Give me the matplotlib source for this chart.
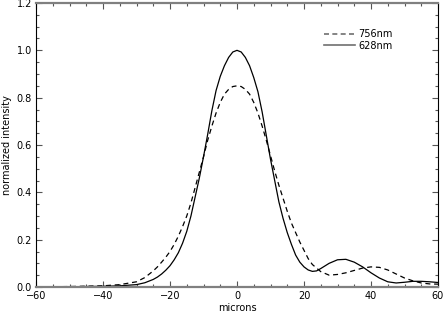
import numpy as np
import matplotlib.pyplot as plt
from matplotlib.lines import Line2D
from matplotlib.ticker import MultipleLocator

# profile positions (microns)
pos = [-60, -50, -40, -35, -30, -27.5, -25, -23.75, -22.5, -21.25, -20, -18.75, -17.5, -16.25,
       -15, -13.75, -12.5, -11.25, -10, -8.75, -7.5, -6.25, -5, -3.75, -2.5, -1.25,
       0, 1.25, 2.5, 3.75, 5, 6.25, 7.5, 8.75, 10, 11.25, 12.5, 13.75, 15, 16.25, 17.5,
       18.75, 20, 21.25, 22.5, 23.75, 25, 27.5, 30, 32.5, 35, 37.5,
       40, 42.5, 45, 47.5, 50, 52.5, 55, 57.5, 60]

# 628nm (solid)
red_628 = [0.0, 0.001, 0.003, 0.005, 0.01, 0.018, 0.032, 0.042, 0.055, 0.071, 0.09, 0.115,
           0.145, 0.185, 0.235, 0.30, 0.38, 0.46, 0.55, 0.645, 0.745, 0.83, 0.89, 0.935,
           0.97, 0.993, 1.0, 0.993, 0.97, 0.935, 0.885, 0.825, 0.74, 0.64, 0.54, 0.45,
           0.36, 0.29, 0.23, 0.18, 0.135, 0.105, 0.085, 0.072, 0.066, 0.068, 0.078,
           0.1, 0.115, 0.117, 0.105, 0.085, 0.06, 0.038, 0.022, 0.017, 0.02, 0.024,
           0.024, 0.022, 0.019]

# 756nm (dashed)
ir_756 = [0.0, 0.002, 0.005, 0.01, 0.022, 0.04, 0.068, 0.085, 0.105, 0.126, 0.15, 0.18,
          0.215, 0.255, 0.30, 0.355, 0.42, 0.485, 0.55, 0.62, 0.68, 0.735, 0.78, 0.815,
          0.835, 0.847, 0.85, 0.847, 0.835, 0.815, 0.78, 0.735, 0.68, 0.62, 0.555, 0.49,
          0.43, 0.375, 0.32, 0.27, 0.23, 0.19, 0.155, 0.12, 0.095, 0.08, 0.065,
          0.05, 0.053, 0.06, 0.07, 0.08, 0.085, 0.083, 0.072, 0.055, 0.038, 0.026,
          0.017, 0.013, 0.012]

labels = ['756nm', '628nm']

fig = plt.figure(figsize=(4.45, 3.15), dpi=100)
ax = fig.add_axes([36 / 445, 1 - 287 / 315, 402 / 445, 284 / 315])

ax.plot(pos, ir_756, color='black', lw=0.9, ls=(0, (4, 3)))
ax.plot(pos, red_628, color='black', lw=0.9)

ax.set_xlim(-60, 60)
ax.set_ylim(0, 1.2)
ax.xaxis.set_major_locator(MultipleLocator(20))
ax.xaxis.set_minor_locator(MultipleLocator(5))
ax.yaxis.set_major_locator(MultipleLocator(0.2))
ax.yaxis.set_minor_locator(MultipleLocator(0.05))
ax.yaxis.set_major_formatter(plt.FuncFormatter(lambda v, p: f'{v:.1f}'))
ax.xaxis.set_major_formatter(plt.FuncFormatter(lambda v, p: f'{v:.0f}'.replace('-', '\u2212')))

ax.tick_params(which='both', direction='in', top=True, right=True, labelsize=7, pad=3,
               color='#555555')
ax.tick_params(which='major', length=4, width=0.8)
ax.tick_params(which='minor', length=2.5, width=0.8)

for side in ['top', 'bottom']:
    ax.spines[side].set_color('#808080')
    ax.spines[side].set_linewidth(1.6)
for side in ['left', 'right']:
    ax.spines[side].set_color('black')
    ax.spines[side].set_linewidth(0.8)

ax.set_xlabel('microns', fontsize=7, labelpad=1)
ax.set_ylabel('normalized intensity', fontsize=7, labelpad=3)

handles = [Line2D([], [], color='#707070', lw=1.2, ls=(0, (3, 2))),
           Line2D([], [], color='#707070', lw=1.2)]
ax.legend(handles, labels, loc='upper left', bbox_to_anchor=(0.705, 0.925), frameon=False,
          fontsize=7, handlelength=3.2, handletextpad=0.3, labelspacing=0.15, borderpad=0)

fig.savefig('out.png', dpi=100)
